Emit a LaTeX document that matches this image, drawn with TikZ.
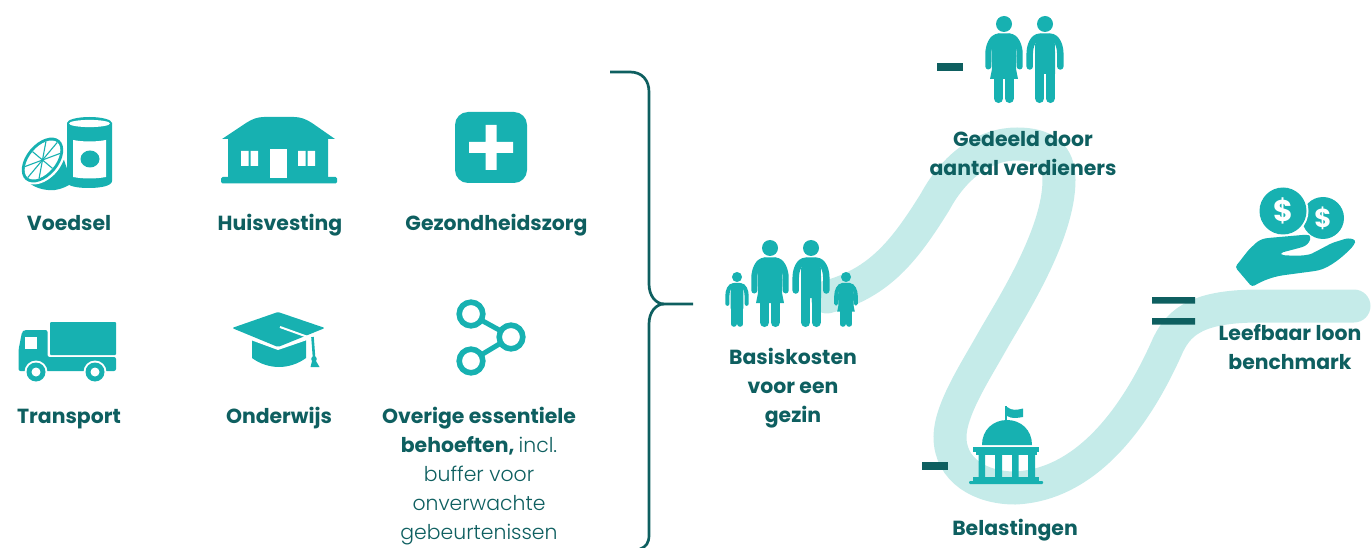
\documentclass[tikz,border=0pt]{standalone}
\usepackage{fontspec}
\setmainfont{Poppins}[BoldFont={Poppins Bold}]
\newfontfamily\lightfont{Poppins Light}
\definecolor{teal1}{HTML}{17B1B1}
\definecolor{dark1}{HTML}{0E5F60}
\definecolor{ribbon}{HTML}{C5EBE9}
\newcommand\manicon[3]{%
 \begin{scope}[shift={(#1,#2)},scale=#3]
  \fill[teal1] (0,0) circle (8);
  \fill[teal1] (-10,32) .. controls (-10,20) and (-10,9.5) .. (-5,9.5) -- (5,9.5) .. controls (10,9.5) and (10,20) .. (10,32) -- (10,50) -- (-10,50) -- cycle;
  \draw[teal1,line width=#3*6.5pt,line cap=round] (5,12.75) .. controls (12,12.75) and (15.3,22) .. (15.3,30) -- (15.3,42.5);
  \draw[teal1,line width=#3*6.5pt,line cap=round] (-5,12.75) .. controls (-12,12.75) and (-15.3,22) .. (-15.3,30) -- (-15.3,42.5);
  \draw[teal1,line width=#3*9.3pt,line cap=round] (5.3,45) -- (5.3,74.4);
  \draw[teal1,line width=#3*9.3pt,line cap=round] (-5.3,45) -- (-5.3,74.4);
 \end{scope}}
\newcommand\womanicon[3]{%
 \begin{scope}[shift={(#1,#2)},scale=#3]
  \fill[teal1] (0,0) circle (8);
  \fill[teal1] (-12.5,32) .. controls (-12.5,20) and (-10,9.5) .. (-6,9.5) -- (6,9.5) .. controls (10,9.5) and (12.5,20) .. (12.5,32) -- (12,45) -- (14,55) -- (-14,55) -- (-12,45) -- cycle;
  \draw[teal1,line width=#3*6pt,line cap=round] (5,12.5) .. controls (12,12.5) and (15.7,22) .. (15.7,30) -- (15.7,42.5);
  \draw[teal1,line width=#3*6pt,line cap=round] (-5,12.5) .. controls (-12,12.5) and (-15.7,22) .. (-15.7,30) -- (-15.7,42.5);
  \draw[teal1,line width=#3*9.3pt,line cap=round] (5.4,50) -- (5.4,74.4);
  \draw[teal1,line width=#3*9.3pt,line cap=round] (-5.4,50) -- (-5.4,74.4);
 \end{scope}}
\newcommand\lite[1]{{\lightfont\mdseries\fontsize{20.4}{29}\selectfont #1}}
\tikzset{
 lab/.style={font=\fontsize{20.4}{29}\selectfont\bfseries,text=dark1,align=center,inner sep=0pt,anchor=center},
 sign/.style={fill=dark1,draw=none},
 icon/.style={fill=teal1,draw=none}
}
\begin{document}
\begin{tikzpicture}[x=1pt,y=-1pt]
\useasboundingbox (0,0) rectangle (1371,548);
% ribbon
\draw[ribbon,line width=33pt,line cap=round] (827,297) .. controls (880,283) and (905,250) .. (935,202)
 .. controls (955,165) and (985,144) .. (1017,144)
 .. controls (1045,144) and (1059,155) .. (1059,180)
 .. controls (1059,235) and (1010,310) .. (993,340)
 .. controls (975,372) and (950,410) .. (950,437)
 .. controls (950,470) and (980,488) .. (1015,488)
 .. controls (1085,485) and (1135,420) .. (1168,345)
 .. controls (1180,320) and (1200,306) .. (1260,306) -- (1354,306);
% can
\fill[icon] (67,123) -- (112,123) -- (112,181) .. controls (112,186) and (100,188) .. (89,188) .. controls (80,188) and (72,187) .. (67,184) -- cycle;
\fill[icon] (89.5,123) ellipse (22.5 and 6);
\fill[white] (89.5,123.5) ellipse (20.5 and 3.6);
\fill[white] (73,140) .. controls (84,142) and (95,142) .. (106,140) -- (106,177) .. controls (95,179) and (84,179) .. (73,177) -- cycle;
\fill[icon] (90,159) ellipse (9.5 and 8.5);
% orange
\fill[icon] (24,178) .. controls (32,188) and (45,191) .. (55,190) .. controls (62,189) and (68,186) .. (72,183) -- (64,160) -- cycle;
\begin{scope}[shift={(42.5,160)},rotate=50]
 \fill[white] (0,0) ellipse (28 and 18.5);
 \fill[icon] (0,0) ellipse (26 and 16);
 \fill[white] (0,0) ellipse (23 and 13);
 \foreach \a in {0,45,90,135,180,225,270,315} \draw[teal1,line width=1.1pt] (0,0) -- ({23*cos(\a)},{13*sin(\a)});
\end{scope}
% house
\fill[icon] (222,139) -- (246,123) .. controls (252,119) and (258,117) .. (264,117) -- (294,117) .. controls (300,117) and (306,119) .. (312,123) -- (335,139) -- (328,139) -- (328,178) -- (228,178) -- (228,139) -- cycle;
\fill[icon,rounded corners=1.5pt] (221,177) rectangle (337,183.5);
\fill[white] (270,149) rectangle (287,178);
\fill[white] (241,151) rectangle (248.5,166) (250.5,151) rectangle (258,166);
\fill[white] (298,151) rectangle (305.5,166) (307.5,151) rectangle (315,166);
% plus
\fill[icon,rounded corners=13pt] (455,112) rectangle (527,183);
\fill[white] (469,142) rectangle (513,153) (485.5,125) rectangle (496.5,170);
% truck
\fill[icon,rounded corners=1pt] (50,322) rectangle (116,355);
\fill[icon,rounded corners=2pt] (18.5,371) -- (18.5,350) -- (22,332) -- (24,330) -- (47.5,330) -- (47.5,357) -- (116,357) -- (116,371) -- cycle;
\fill[white] (25,337) rectangle (37,349);
\foreach \c/\n in {36/a,95/b}{
 \fill[white] (\c,372) circle (11.5);
 \fill[icon] (\c,372) circle (9.5);
 \fill[white] (\c,372) circle (4.5);
}
% cap
\fill[icon] (252,338) -- (306,338) -- (306,358) .. controls (298,364) and (288,367) .. (279,367) .. controls (270,367) and (260,364) .. (252,358) -- cycle;
\fill[white] (248,339) -- (278,350) -- (310,339) -- (310,330) -- (248,330) -- cycle;
\fill[icon,rounded corners=1.5pt] (232,328) -- (278,312) -- (325,328) -- (278,347) -- cycle;
\draw[white,line width=2pt] (280,327) -- (312,338.5);
\draw[teal1,line width=2.6pt] (312.5,337) -- (314,357);
\fill[icon] (314,359) circle (2.8);
\fill[icon] (312,361) -- (316,361) -- (319.5,367) -- (310.5,367) -- cycle;
% share
\draw[teal1,line width=5pt] (481,320) -- (501,331) (481,355) -- (501,343);
\draw[teal1,line width=5.6pt] (471,314) circle (11.8) (511,337) circle (11.8) (471,361) circle (11.8);
% brace
\coordinate (bt) at (610,72);
\coordinate (bm) at (693,304);
\coordinate (bb) at (640,549);
\draw[dark1,line width=2.7pt] (bt) -- (630,72) .. controls (642,72) and (649,80) .. (649,92) -- (649,284) .. controls (649,296) and (656,304) .. (664,304) -- (bm);
\draw[dark1,line width=2.7pt] (664,304) .. controls (656,304) and (649,312) .. (649,324) -- (649,535) .. controls (649,543) and (646,547) .. (bb);
% people
\manicon{811}{248}{1}
\womanicon{770}{248}{1}
\manicon{737}{277}{0.63}
\womanicon{846}{277}{0.63}
\manicon{1045}{24}{1}
\womanicon{1004}{24}{1}
% signs
\fill[sign] (937,63) rectangle (963,71);
\fill[sign] (922,462) rectangle (948,470);
\fill[sign] (1152,297) rectangle (1195,303.5) (1152,318) rectangle (1195,324.5);
% bank
\fill[icon] (1005,406) rectangle (1007,421);
\fill[icon] (1007,407) .. controls (1012,411) and (1017,410) .. (1023,408.5) -- (1023,417) .. controls (1017,418) and (1012,419) .. (1007,416) -- cycle;
\fill[icon] (982,445) .. controls (982,430) and (993,420) .. (1007,420) .. controls (1021,420) and (1032,430) .. (1032,445) -- cycle;
\fill[icon] (973,447) rectangle (1039,452);
\fill[icon] (976,452) rectangle (1037,455);
\fill[icon] (978.5,455) rectangle (985,478) (995,455) rectangle (1002,478) (1012,455) rectangle (1018.5,478) (1028,455) rectangle (1035,478);
\fill[icon] (973,477) rectangle (1039,481);
\fill[icon,rounded corners=1pt] (969,481) rectangle (1043,484);
% coins and hand
\fill[icon] (1323,218) circle (21);
\fill[white] (1283,211) circle (25.5);
\fill[icon] (1283,211) circle (23.5);
\node (d1) at (1283,211) [text=white,inner sep=0pt,font=\fontsize{30}{30}\selectfont\bfseries] {\$};
\node (d2) at (1323,218) [text=white,inner sep=0pt,font=\fontsize{26}{26}\selectfont\bfseries] {\$};
\fill[white] (1305,240) circle (6);
\fill[icon,rounded corners=3pt] (1235,267) .. controls (1241,260) and (1248,250) .. (1254,245) .. controls (1258,241) and (1262,239) .. (1268,238) -- (1308,234.5) -- (1311,237) .. controls (1309,243) and (1306,246) .. (1299,248) -- (1280,253) -- (1281,255) .. controls (1295,256) and (1307,256) .. (1315,252) -- (1332,243) -- (1348,238) -- (1356,240) -- (1354,245) .. controls (1345,255) and (1330,268) .. (1315,271) -- (1285,275) .. controls (1272,277) and (1262,281) .. (1252,287) -- cycle;
% labels
\node[lab] (voedsel) at (69,223) {Voedsel};
\node[lab] (huis) at (280,225) {Huisvesting};
\node[lab] (gezond) at (496.5,225) {Gezondheidszorg};
\node[lab] (transport) at (69,419) {Transport};
\node[lab] (onderwijs) at (279,418) {Onderwijs};
\node[lab] (overig) at (479,476) {Overige essentiele\\behoeften, \lite{incl.}\\\lite{buffer voor}\\\lite{onverwachte}\\\lite{gebeurtenissen}};
\node[lab] (basis) at (793,388.5) {Basiskosten\\voor een\\gezin};
\node[lab] (gedeeld) at (1023,153.5) {Gedeeld door\\aantal verdieners};
\node[lab] (belast) at (1015,530) {Belastingen};
\node[lab] (leef) at (1290,347.5) {Leefbaar loon\\benchmark};
\end{tikzpicture}
\end{document}
